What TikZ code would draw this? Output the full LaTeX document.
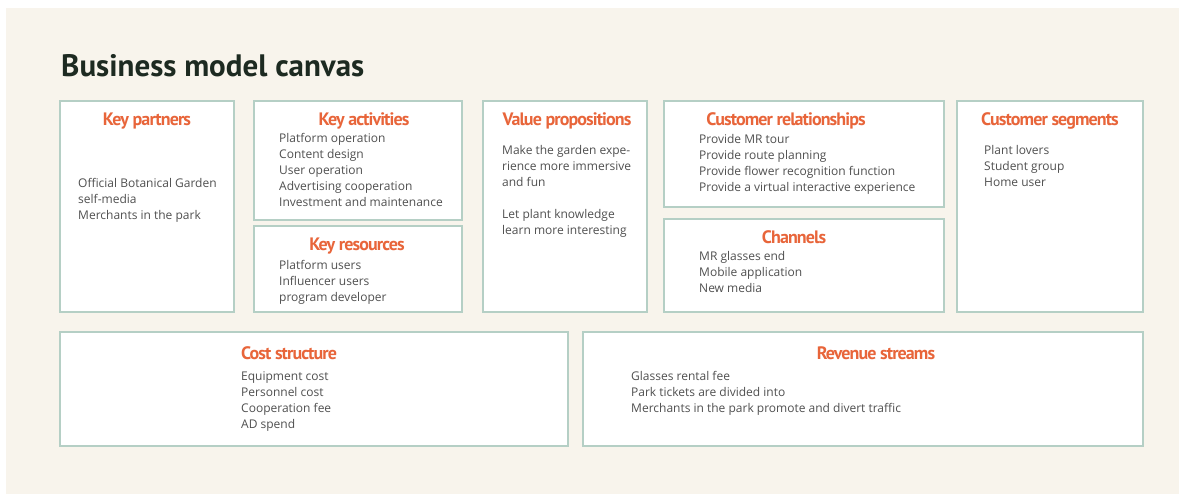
\documentclass[tikz,border=0pt]{standalone}
\usepackage{fontspec}
\setmainfont{Open Sans}
\newfontfamily\headfont[LetterSpace=-5]{PT Sans}
\newfontfamily\titlefont{PT Sans}

\definecolor{canvasbg}{HTML}{F8F4EC}
\definecolor{boxline}{HTML}{B5CFC5}
\definecolor{headcol}{HTML}{E8653A}
\definecolor{bodycol}{HTML}{505050}
\definecolor{titlecol}{HTML}{1D2A21}

\tikzset{
  block/.style={draw=boxline, line width=2.6pt, fill=white},
  head/.style={font=\headfont\bfseries\fontsize{18}{19}\selectfont, text=headcol, inner sep=0pt},
  items/.style={font=\fontsize{12}{16}\selectfont, text=bodycol, align=left, anchor=north west, inner sep=0pt},
}

\begin{document}
\begin{tikzpicture}[x=1pt, y=-1pt]
    \useasboundingbox (0,0) rectangle (1179,494);
    \fill[white] (0,0) rectangle (1179,494);
    \fill[canvasbg] (6,8) rectangle (1179,494);

    \node[anchor=base west, inner sep=0pt, text=titlecol,
          font=\titlefont\bfseries\fontsize{31}{33}\selectfont] (title) at (61,77) {Business model canvas};

    % the nine blocks
    \draw[block] (60,101) rectangle (234,312);
    \draw[block] (254,101) rectangle (462,220);
    \draw[block] (254,226) rectangle (462,312);
    \draw[block] (483,101) rectangle (647,312);
    \draw[block] (664,101) rectangle (944,207);
    \draw[block] (664,219) rectangle (944,312);
    \draw[block] (957,101) rectangle (1143,312);
    \draw[block] (60,332) rectangle (568,446);
    \draw[block] (583,332) rectangle (1143,446);

    % headings
    \node[head] (partners)      at (147,121) {Key partners};
    \node[head] (activities)    at (364,121) {Key activities};
    \node[head] (resources)     at (357,246) {Key resources};
    \node[head] (propositions)  at (567,121) {Value propositions};
    \node[head] (relationships) at (786,121) {Customer relationships};
    \node[head] (channels)      at (794,237) {Channels};
    \node[head] (segments)      at (1050,121) {Customer segments};
    \node[head] (cost)          at (289,353) {Cost structure};
    \node[head] (revenue)       at (876,353) {Revenue streams};

    % block contents
    \node[items] (partnerlist) at (78,178.5) {Official Botanical Garden\\self-media\\Merchants in the park};
    \node[items] (activitylist) at (279,133.5) {Platform operation\\Content design\\User operation\\Advertising cooperation\\Investment and maintenance};
    \node[items] (resourcelist) at (279,260.5) {Platform users\\Influencer users\\program developer};
    \node[items] (propositionlist) at (502,145.5) {Make the garden expe-\\rience more immersive\\and fun\\[16pt]Let plant knowledge\\learn more interesting};
    \node[items] (relationlist) at (699,134.5) {Provide MR tour\\Provide route planning\\Provide flower recognition function\\Provide a virtual interactive experience};
    \node[items] (channellist) at (699,251.5) {MR glasses end\\Mobile application\\New media};
    \node[items] (segmentlist) at (984,145.5) {Plant lovers\\Student group\\Home user};
    \node[items] (costlist) at (241,371.5) {Equipment cost\\Personnel cost\\Cooperation fee\\AD spend};
    \node[items] (revenuelist) at (631,371.5) {Glasses rental fee\\Park tickets are divided into\\Merchants in the park promote and divert traffic};
\end{tikzpicture}
\end{document}
